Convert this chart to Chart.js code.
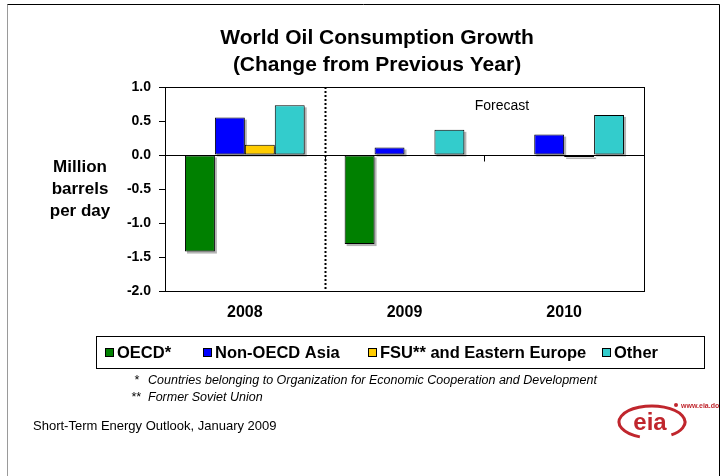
<!DOCTYPE html>
<html>
<head>
<meta charset="utf-8">
<script src="https://cdn.jsdelivr.net/npm/chart.js@4/dist/chart.umd.min.js"></script>
<style>
  body { margin: 0; background: #fff; }
  canvas { display: block; }
</style>
</head>
<body>
<canvas id="oilChart" width="723" height="476"></canvas>
<script>
// values (million barrels per day)
var years = ['2008', '2009', '2010']
var oecd = [-1.42, -1.31, 0]
var nonOecdAsia = [0.55, 0.11, 0.30]
var fsu = [0.15, 0.0, -0.03]
var other = [0.73, 0.37, 0.59]
var yTicks = [1.0, 0.5, 0.0, -0.5, -1.0, -1.5, -2.0]

var seriesNames = ['OECD*', 'Non-OECD Asia', 'FSU** and Eastern Europe', 'Other']
var seriesColors = ['#008000', '#0000ff', '#ffcc00', '#33cccc']

var FONT = 'Arial, "Liberation Sans", sans-serif'

// everything drawn around the plot: frame, titles, legend, notes, logo
var decorations = {
    id: 'decorations',
    beforeDatasetsDraw(chart) {
        // gray drop shadow behind each bar
        var ctx = chart.ctx
        ctx.save()
        ctx.fillStyle = '#b4b4b4'
        chart.data.datasets.forEach(function (ds, i) {
            chart.getDatasetMeta(i).data.forEach(function (bar) {
                var p = bar.getProps(['x', 'y', 'base', 'width'])
                var top = Math.min(p.y, p.base)
                var h = Math.abs(p.base - p.y)
                if (h < 1) return
                ctx.fillRect(p.x - p.width / 2 + 2, top + 2, p.width, h)
            })
        })
        ctx.restore()
    },
    afterDraw(chart) {
        var ctx = chart.ctx
        var area = chart.chartArea
        var y = chart.scales.y
        ctx.save()

        // outer frame
        ctx.strokeStyle = '#9a9a9a'
        ctx.lineWidth = 1
        ctx.beginPath()
        ctx.moveTo(7.5, 476); ctx.lineTo(7.5, 4.5)
        ctx.stroke()
        ctx.strokeStyle = '#000'
        ctx.beginPath()
        ctx.moveTo(7.5, 4.5); ctx.lineTo(719.5, 4.5); ctx.lineTo(719.5, 476)
        ctx.stroke()

        // plot box + zero line
        ctx.strokeRect(area.left + 0.5, area.top + 0.5, area.right - area.left, area.bottom - area.top)
        var y0 = Math.round(y.getPixelForValue(0)) + 0.5
        ctx.beginPath()
        ctx.moveTo(area.left, y0); ctx.lineTo(area.right, y0)
        ctx.stroke()

        // category tick marks on the zero line
        var n = years.length
        var band = (area.right - area.left) / n
        ctx.beginPath()
        for (var i = 1; i < n; i++) {
            var bx = Math.round(area.left + band * i) + 0.5
            ctx.moveTo(bx, y0); ctx.lineTo(bx, y0 + 6)
        }
        ctx.stroke()

        // dotted separator between history and forecast
        var sx = Math.round(area.left + band) + 0.5
        ctx.setLineDash([2, 2])
        ctx.lineWidth = 2
        ctx.beginPath()
        ctx.moveTo(sx, area.top); ctx.lineTo(sx, area.bottom)
        ctx.stroke()
        ctx.setLineDash([])
        ctx.lineWidth = 1

        ctx.fillStyle = '#000'
        ctx.textAlign = 'center'
        ctx.textBaseline = 'middle'
        ctx.font = '14px ' + FONT
        ctx.fillText('Forecast', 502, 106)

        // titles
        ctx.font = 'bold 21px ' + FONT
        ctx.fillText('World Oil Consumption Growth', 377, 38)
        ctx.fillText('(Change from Previous Year)', 377, 65)

        // y axis title
        ctx.font = 'bold 17px ' + FONT
        ctx.fillText('Million', 80, 167)
        ctx.fillText('barrels', 80, 189)
        ctx.fillText('per day', 80, 211)

        // legend box
        ctx.strokeRect(96.5, 336.5, 608, 32)
        var legendX = [105, 203, 368, 602]
        ctx.font = 'bold 16.5px ' + FONT
        ctx.textAlign = 'left'
        chart.data.datasets.forEach(function (ds, k) {
            var lx = legendX[k]
            ctx.fillStyle = ds.backgroundColor
            ctx.fillRect(lx + 0.5, 348.5, 8, 8)
            ctx.strokeRect(lx + 0.5, 348.5, 8, 8)
            ctx.fillStyle = '#000'
            ctx.fillText(ds.label, lx + 12, 353)
        })

        // footnotes
        ctx.font = 'italic 12.5px ' + FONT
        ctx.fillText('*', 134, 381)
        ctx.fillText('Countries belonging to Organization for Economic Cooperation and Development', 148, 381)
        ctx.fillText('**', 131, 398)
        ctx.fillText('Former Soviet Union', 148, 398)
        ctx.font = '13px ' + FONT
        ctx.fillText('Short-Term Energy Outlook, January 2009', 33, 426)

        // eia logo
        ctx.strokeStyle = '#c0262d'
        ctx.fillStyle = '#c0262d'
        ctx.lineWidth = 3
        ctx.beginPath()
        ctx.ellipse(652, 422, 33, 16, 0, Math.PI * 0.62, Math.PI * 2.3)
        ctx.stroke()
        ctx.beginPath()
        ctx.arc(676, 405, 2, 0, Math.PI * 2)
        ctx.fill()
        ctx.font = 'bold 24px ' + FONT
        ctx.textAlign = 'center'
        ctx.fillText('eia', 650, 423)
        ctx.font = 'bold 7px ' + FONT
        ctx.textAlign = 'left'
        ctx.beginPath()
        ctx.rect(0, 0, 719, 476)
        ctx.clip()
        ctx.fillText('www.eia.doe.gov', 681, 406)

        ctx.restore()
    }
}

var values = [oecd, nonOecdAsia, fsu, other]

new Chart(document.getElementById('oilChart'), {
    type: 'bar',
    data: {
        labels: years,
        datasets: values.map(function (v, k) {
            return {
                label: seriesNames[k],
                data: v,
                backgroundColor: seriesColors[k],
                borderColor: '#000',
                borderWidth: 1,
                borderSkipped: false,
                categoryPercentage: 0.75,
                barPercentage: 1.0
            }
        })
    },
    options: {
        responsive: false,
        animation: false,
        events: [],
        layout: { padding: { top: 87, right: 79, bottom: 145, left: 0 } },
        plugins: {
            legend: { display: false },
            title: { display: false },
            tooltip: { enabled: false }
        },
        scales: {
            x: {
                grid: { display: false, drawTicks: false },
                border: { display: false },
                ticks: {
                    padding: 12,
                    color: '#000',
                    font: { family: FONT, size: 16, weight: 'bold' }
                },
                afterFit: function (s) { s.height = 40 }
            },
            y: {
                min: -2,
                max: 1,
                afterBuildTicks: function (s) {
                    s.ticks = yTicks.map(function (v) { return { value: v } })
                },
                grid: { drawOnChartArea: false, drawTicks: true, tickLength: 6, color: '#000' },
                border: { display: true, color: '#000' },
                ticks: {
                    padding: 8,
                    color: '#000',
                    font: { family: FONT, size: 14, weight: 'bold' },
                    callback: function (v) { return Number(v).toFixed(1) }
                },
                afterFit: function (s) { s.width = 165 }
            }
        }
    },
    plugins: [decorations]
});
</script>
</body>
</html>
